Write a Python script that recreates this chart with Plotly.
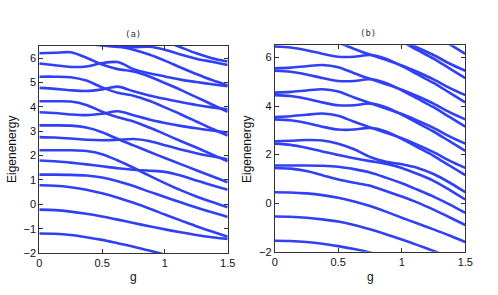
import plotly.graph_objects as go

W, H = 498, 295
g_vals = [0, 0.125, 0.25, 0.375, 0.5, 0.625, 0.75, 0.875, 1.0, 1.125, 1.25, 1.375, 1.5]

# ---- panel (a) eigenenergy curves ----
a_c1 = [-1.2, -1.21, -1.26, -1.35, -1.46, -1.6, -1.74, -1.9, -2.07, -2.25, -2.45, -2.65, -2.85]
a_c2 = [-0.22, -0.24, -0.3, -0.39, -0.5, -0.63, -0.77, -0.9, -1.03, -1.15, -1.26, -1.35, -1.42]
a_c3 = [0.78, 0.76, 0.7, 0.6, 0.45, 0.27, 0.06, -0.17, -0.42, -0.66, -0.9, -1.12, -1.33]
a_c4 = [1.22, 1.22, 1.21, 1.18, 1.1, 0.95, 0.75, 0.52, 0.3, 0.08, -0.13, -0.33, -0.52]
a_c5 = [1.8, 1.77, 1.71, 1.64, 1.56, 1.48, 1.42, 1.38, 1.33, 1.18, 0.98, 0.78, 0.6]
a_c6 = [2.22, 2.22, 2.22, 2.19, 2.06, 1.8, 1.5, 1.18, 0.87, 0.58, 0.32, 0.09, -0.12]
a_c7 = [2.76, 2.74, 2.7, 2.65, 2.63, 2.65, 2.68, 2.6, 2.42, 2.25, 2.1, 1.97, 1.85]
a_c8 = [3.24, 3.24, 3.23, 3.15, 2.96, 2.68, 2.42, 2.16, 1.9, 1.65, 1.4, 1.15, 0.9]
a_c9 = [3.78, 3.75, 3.69, 3.66, 3.72, 3.82, 3.66, 3.48, 3.34, 3.22, 3.12, 3.03, 2.95]
a_c10 = [4.23, 4.23, 4.22, 4.08, 3.8, 3.57, 3.4, 3.15, 2.88, 2.6, 2.33, 2.05, 1.77]
a_c11 = [4.78, 4.74, 4.68, 4.65, 4.72, 4.83, 4.64, 4.47, 4.33, 4.2, 4.08, 3.98, 3.9]
a_c12 = [5.24, 5.24, 5.22, 5.08, 4.8, 4.58, 4.46, 4.25, 3.98, 3.7, 3.4, 3.1, 2.82]
a_c13 = [5.78, 5.71, 5.64, 5.66, 5.8, 5.84, 5.55, 5.38, 5.25, 5.12, 5.02, 4.93, 4.85]
a_c14 = [6.2, 6.22, 6.24, 6.02, 5.74, 5.55, 5.45, 5.25, 4.98, 4.7, 4.4, 4.1, 3.8]
a_c15 = [6.78, 6.74, 6.68, 6.6, 6.52, 6.46, 6.45, 6.47, 6.35, 6.15, 5.98, 5.85, 5.72]
a_c16 = [7.2, 7.21, 7.2, 7.0, 6.72, 6.5, 6.35, 6.15, 5.9, 5.62, 5.35, 5.1, 4.88]
a_c17 = [8.2, 8.2, 8.18, 8.0, 7.72, 7.46, 7.2, 6.95, 6.7, 6.45, 6.2, 6.0, 5.86]
panel_a = [a_c1, a_c2, a_c3, a_c4, a_c5, a_c6, a_c7, a_c8, a_c9, a_c10,
           a_c11, a_c12, a_c13, a_c14, a_c15, a_c16, a_c17]

# ---- panel (b) ----
b_c1 = [-1.55, -1.56, -1.6, -1.67, -1.77, -1.89, -2.03, -2.2, -2.4, -2.6, -2.8, -3.0, -3.2]
b_c2 = [-0.55, -0.56, -0.6, -0.67, -0.76, -0.9, -1.08, -1.28, -1.5, -1.73, -1.97, -2.22, -2.47]
b_c3 = [0.45, 0.44, 0.4, 0.33, 0.22, 0.07, -0.12, -0.35, -0.6, -0.84, -1.08, -1.33, -1.6]
b_c4 = [1.45, 1.42, 1.32, 1.15, 0.97, 0.84, 0.72, 0.5, 0.27, 0.02, -0.27, -0.58, -0.9]
b_c5 = [1.55, 1.55, 1.55, 1.54, 1.5, 1.4, 1.26, 1.05, 0.82, 0.55, 0.27, -0.05, -0.4]
b_c6 = [2.45, 2.4, 2.28, 2.13, 1.98, 1.85, 1.73, 1.62, 1.45, 1.2, 0.92, 0.55, 0.15]
b_c7 = [2.55, 2.57, 2.6, 2.58, 2.45, 2.22, 1.9, 1.7, 1.6, 1.45, 1.2, 0.85, 0.45]
b_c8 = [3.45, 3.41, 3.3, 3.15, 3.03, 3.03, 3.1, 2.95, 2.65, 2.3, 1.95, 1.55, 1.15]
b_c9 = [3.55, 3.58, 3.64, 3.69, 3.6, 3.35, 3.12, 2.9, 2.67, 2.4, 2.1, 1.75, 1.45]
b_c10 = [4.45, 4.41, 4.3, 4.15, 4.03, 4.03, 4.1, 3.95, 3.65, 3.3, 2.95, 2.55, 2.15]
b_c11 = [4.55, 4.58, 4.64, 4.69, 4.6, 4.35, 4.12, 3.9, 3.67, 3.4, 3.1, 2.75, 2.45]
b_c12 = [5.45, 5.41, 5.3, 5.15, 5.03, 5.03, 5.1, 4.95, 4.65, 4.3, 3.95, 3.55, 3.15]
b_c13 = [5.55, 5.58, 5.64, 5.69, 5.6, 5.35, 5.12, 4.9, 4.67, 4.4, 4.1, 3.75, 3.45]
b_c14 = [6.45, 6.41, 6.3, 6.15, 6.03, 6.03, 6.1, 5.95, 5.65, 5.3, 4.95, 4.55, 4.15]
b_c15 = [6.55, 6.58, 6.64, 6.69, 6.6, 6.35, 6.12, 5.9, 5.67, 5.4, 5.1, 4.75, 4.45]
b_c16 = [7.45, 7.41, 7.3, 7.15, 7.03, 7.03, 7.1, 6.95, 6.65, 6.3, 5.95, 5.55, 5.15]
b_c17 = [7.55, 7.58, 7.64, 7.69, 7.6, 7.35, 7.12, 6.9, 6.67, 6.4, 6.1, 5.75, 5.45]
b_c18 = [8.45, 8.41, 8.3, 8.15, 8.03, 8.03, 8.1, 7.95, 7.65, 7.3, 6.95, 6.55, 6.15]
panel_b = [b_c1, b_c2, b_c3, b_c4, b_c5, b_c6, b_c7, b_c8, b_c9, b_c10,
           b_c11, b_c12, b_c13, b_c14, b_c15, b_c16, b_c17, b_c18]

x_ticks = [0, 0.5, 1, 1.5]
x_tick_text = ["0", "0.5", "1", "1.5"]
ya_ticks = [-2, -1, 0, 1, 2, 3, 4, 5, 6]
yb_ticks = [-2, 0, 2, 4, 6]
titles = ["(a)", "(b)"]

LINE = "#3140f5"
fig = go.Figure()
for ys in panel_a:
    fig.add_trace(go.Scatter(x=g_vals, y=ys, mode="lines",
                             line=dict(color=LINE, width=2.6, shape="spline", smoothing=0.8),
                             xaxis="x", yaxis="y", showlegend=False, hoverinfo="skip"))
for ys in panel_b:
    fig.add_trace(go.Scatter(x=g_vals, y=ys, mode="lines",
                             line=dict(color=LINE, width=2.6, shape="spline", smoothing=0.8),
                             xaxis="x2", yaxis="y2", showlegend=False, hoverinfo="skip"))


def px_x(p):
    return p / W


def px_y(p):
    return 1 - p / H


ax_common = dict(showline=True, linecolor="#333", linewidth=1, mirror="ticks", ticks="inside", ticklen=4,
                 tickcolor="#333", showgrid=False, zeroline=False, automargin=False,
                 tickfont=dict(family="Liberation Sans, Arial, sans-serif", size=11, color="#111"))

fig.update_layout(
    width=W, height=H, margin=dict(l=0, r=0, t=0, b=0, autoexpand=False),
    paper_bgcolor="white", plot_bgcolor="white",
    xaxis=dict(domain=[px_x(39.3), px_x(227.7)], range=[0, 1.5], tickvals=x_ticks, ticktext=x_tick_text,
               anchor="y", **ax_common),
    yaxis=dict(domain=[px_y(253), px_y(46)], range=[-2, 6.5], tickvals=ya_ticks, anchor="x", **ax_common),
    xaxis2=dict(domain=[px_x(274.7), px_x(465.3)], range=[0, 1.5], tickvals=x_ticks, ticktext=x_tick_text,
                anchor="y2", **ax_common),
    yaxis2=dict(domain=[px_y(251.7), px_y(45.3)], range=[-2, 6.5], tickvals=yb_ticks, anchor="x2", **ax_common),
)

ann_font = dict(family="Liberation Sans, Arial, sans-serif", size=12, color="#111")
title_font = dict(family="DejaVu Sans Mono, monospace", size=9, color="#333")


def label(xp, yp, text, font, angle=0):
    fig.add_annotation(x=px_x(xp), y=px_y(yp), xref="paper", yref="paper", text=text, showarrow=False,
                       xanchor="center", yanchor="middle", textangle=angle, font=font)


label(133, 34, titles[0], title_font)
label(368, 33, titles[1], title_font)
label(133, 277, "g", ann_font)
label(370, 277, "g", ann_font)
label(12, 150, "Eigenenergy", ann_font, -90)
label(247, 150, "Eigenenergy", ann_font, -90)

fig.write_html("out.html", config={"displayModeBar": False},
               post_script="document.body.style.margin='0px';")
